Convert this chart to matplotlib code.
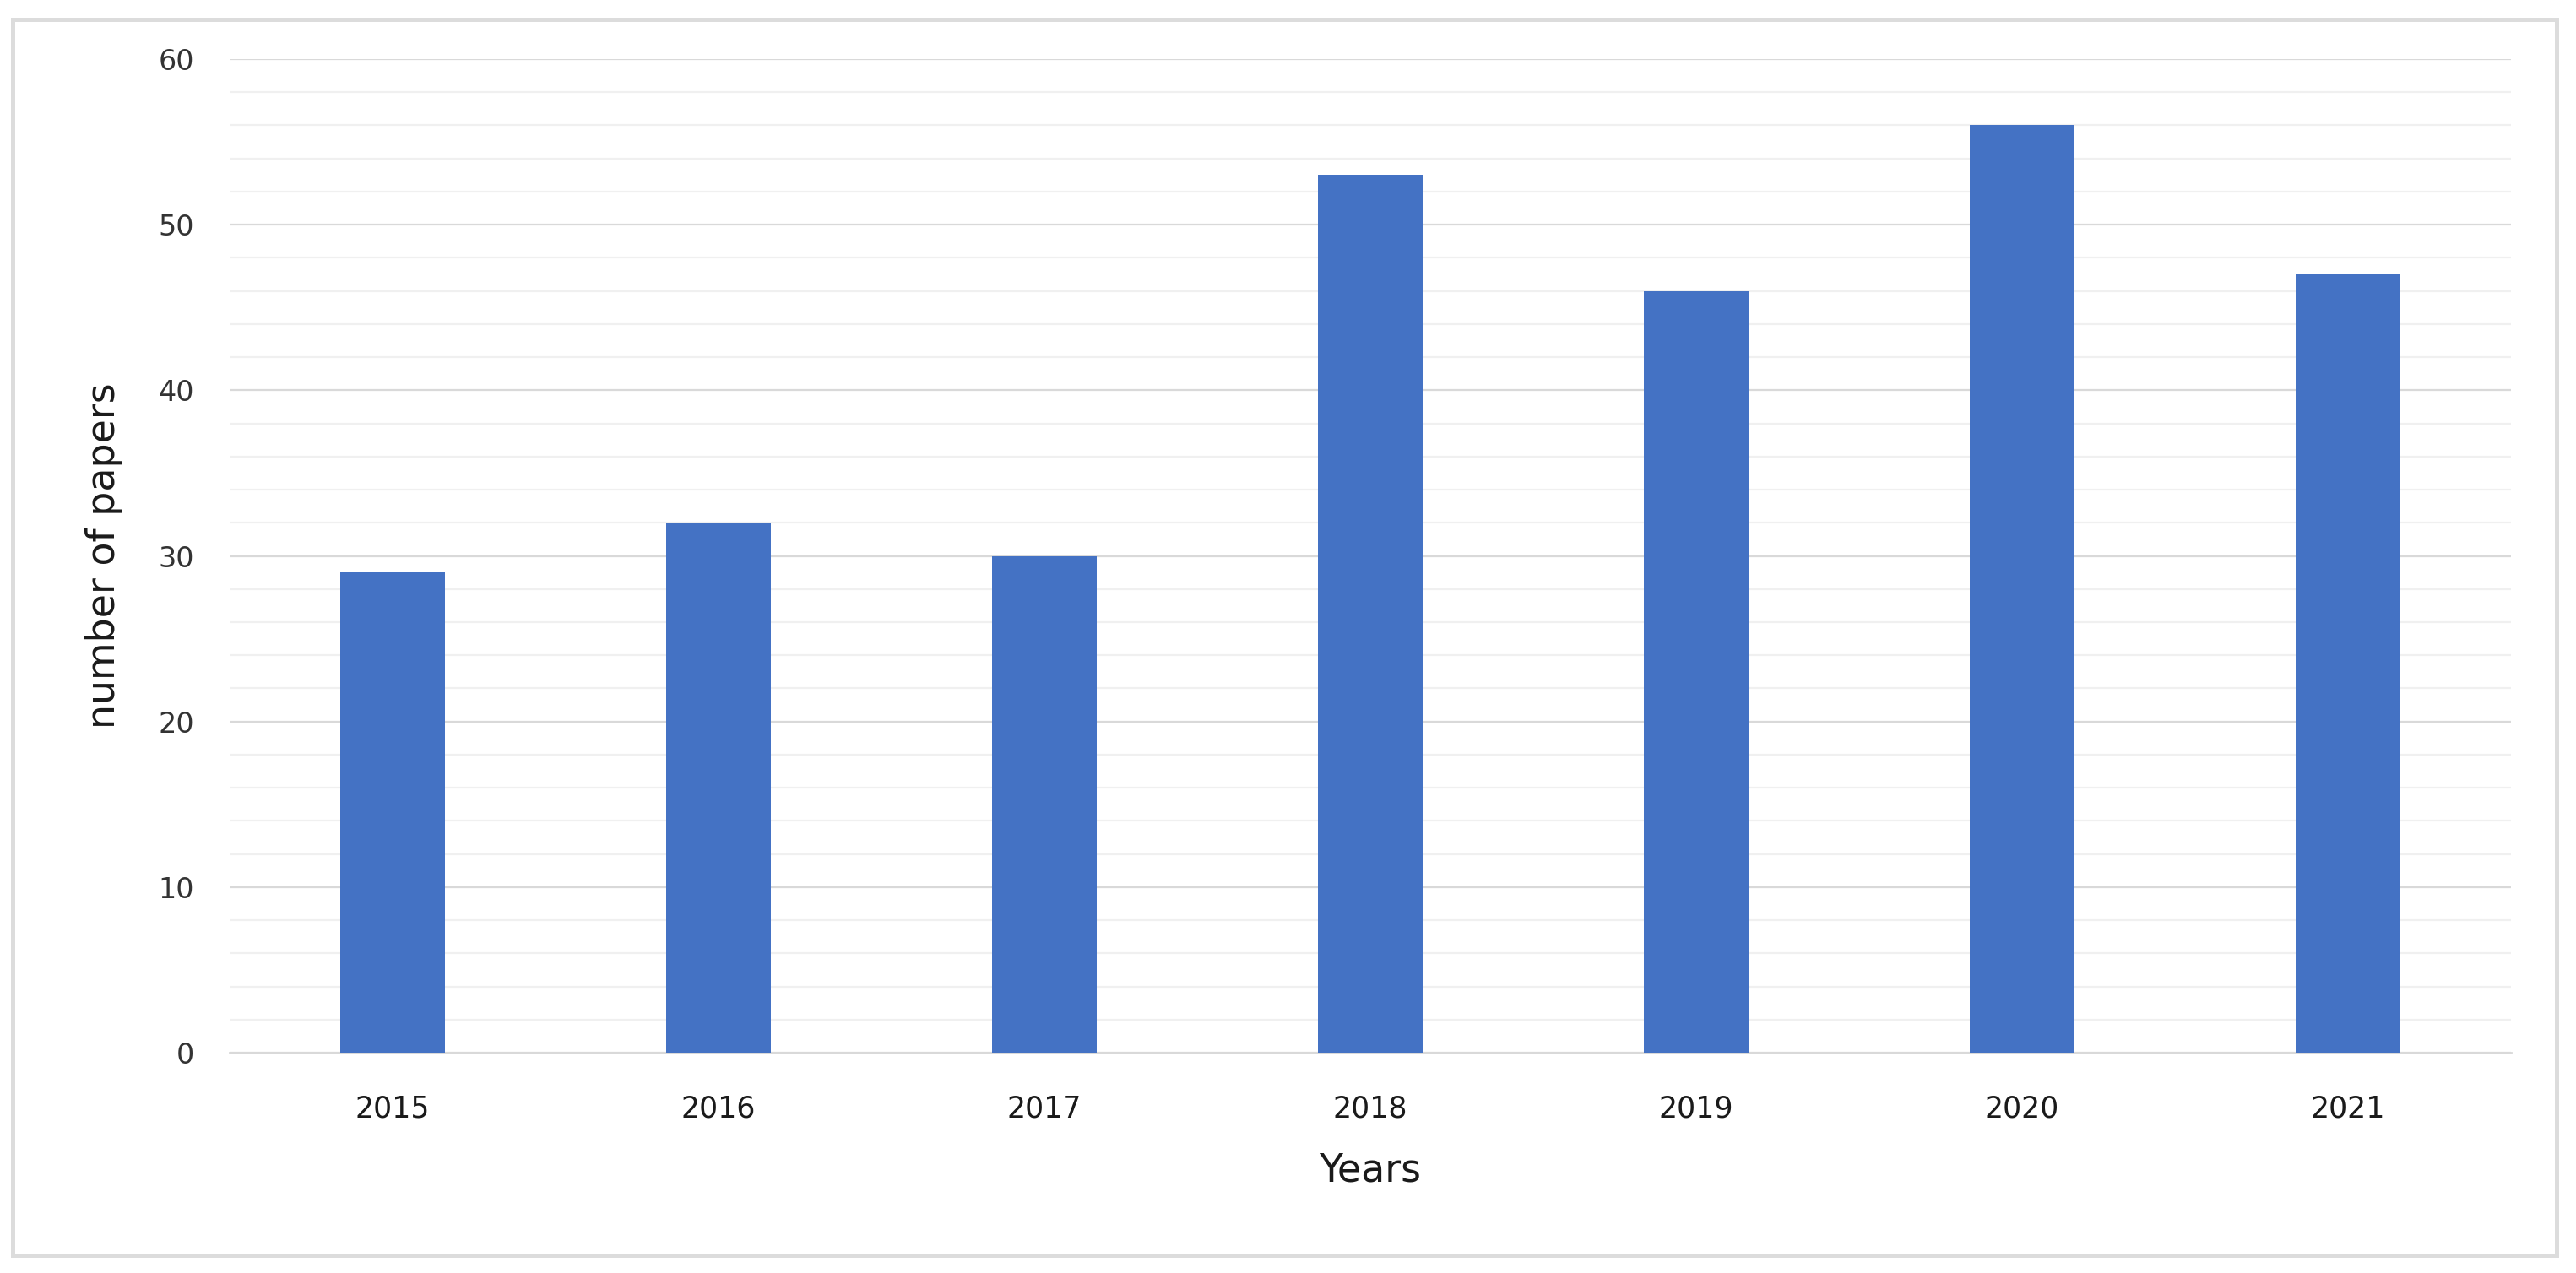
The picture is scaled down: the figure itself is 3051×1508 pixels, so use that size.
import matplotlib
matplotlib.use("Agg")
import matplotlib.pyplot as plt
from matplotlib.patches import Rectangle

years = ["2015", "2016", "2017", "2018", "2019", "2020", "2021"]
papers = [29, 32, 30, 53, 46, 56, 47]
y_ticks = [0, 10, 20, 30, 40, 50, 60]
minor_ticks = [v for v in range(0, 61, 2) if v % 10 != 0]

W, H = 3051, 1508
dpi = 100
fig = plt.figure(figsize=(W / dpi, H / dpi), dpi=dpi)
fig.patch.set_facecolor("white")

# outer border
fig.patches.append(Rectangle((15 / W, 1 - 1487 / H), (3028 - 15) / W, (1487 - 23) / H,
                             transform=fig.transFigure, fill=False,
                             edgecolor="#dcdcdc", linewidth=3.6, zorder=0))

left, right = 272 / W, 2974 / W
bottom, top = 1 - 1247 / H, 1 - 70 / H
ax = fig.add_axes([left, bottom, right - left, top - bottom])

x = list(range(len(years)))
ax.bar(x, papers, width=0.32, color="#4472C4", zorder=3)

ax.set_xlim(-0.5, len(years) - 0.5)
ax.set_ylim(0, 60)
ax.set_yticks(y_ticks)
ax.set_yticks(minor_ticks, minor=True)
ax.set_xticks(x)
ax.set_xticklabels(years)

ax.grid(axis="y", which="major", color="#d9d9d9", linewidth=1.6, zorder=0)
ax.grid(axis="y", which="minor", color="#f0f0f0", linewidth=1.6, zorder=0)

for s in ["top", "right", "left"]:
    ax.spines[s].set_visible(False)
ax.spines["bottom"].set_color("#d9d9d9")
ax.spines["bottom"].set_linewidth(2.0)

ax.tick_params(axis="y", which="both", length=0, pad=30, labelsize=24, labelcolor="#333333")
ax.tick_params(axis="x", which="both", length=0, pad=36, labelsize=25, labelcolor="#1a1a1a")

ax.set_xlabel("Years", fontsize=33, color="#1a1a1a", labelpad=24)
ax.set_ylabel("number of papers", fontsize=33, color="#1a1a1a", labelpad=30)

fig.savefig("out.png", dpi=dpi)
